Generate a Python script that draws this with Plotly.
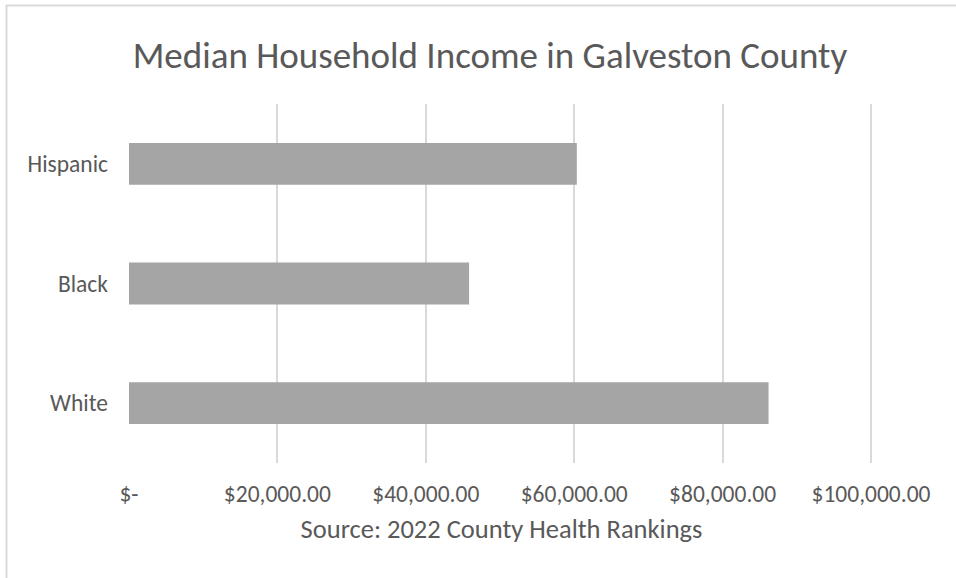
import plotly.graph_objects as go

# Median household income by race/ethnicity, Galveston County
categories = ["White", "Black", "Hispanic"]
income = [86190, 45830, 60350]

tick_values = [0, 20000, 40000, 60000, 80000, 100000]
tick_labels = ["$-", "$20,000.00", "$40,000.00", "$60,000.00", "$80,000.00", "$100,000.00"]

W, H = 956, 578
ML, MR, MT, MB = 129, 82, 104, 115
PW, PH = W - ML - MR, H - MT - MB

TEXT = "#595959"
GRID = "#D9D9D9"
FONT = "Calibri, Carlito, Lato, sans-serif"


def px_x(p):
    return (p - ML) / PW


def px_y(p):
    return (H - MB - p) / PH


fig = go.Figure(
    go.Bar(
        x=income,
        y=categories,
        orientation="h",
        marker=dict(color="#A5A5A5", line=dict(width=0)),
        hoverinfo="x+y",
    )
)

fig.update_layout(
    width=W,
    height=H,
    margin=dict(l=ML, r=MR, t=MT, b=MB),
    paper_bgcolor="white",
    plot_bgcolor="white",
    bargap=0.65,
    showlegend=False,
    font=dict(family=FONT, color=TEXT, size=23),
    title=dict(
        text="Median Household Income in Galveston County",
        x=490 / W,
        xanchor="center",
        xref="container",
        y=1 - 55 / H,
        yanchor="middle",
        yref="container",
        font=dict(size=37, color=TEXT, family=FONT),
    ),
    xaxis=dict(
        range=[0, 100400],
        tickvals=tick_values,
        ticktext=tick_labels,
        showgrid=True,
        gridcolor=GRID,
        gridwidth=1.5,
        zeroline=False,
        showline=False,
        ticks="",
        ticklabelstandoff=14,
        tickfont=dict(size=23.5, color=TEXT),
        title=dict(
            text="Source: 2022 County Health Rankings",
            standoff=12,
            font=dict(size=26.5, color=TEXT),
        ),
        fixedrange=True,
    ),
    yaxis=dict(
        categoryorder="array",
        categoryarray=categories,
        showgrid=False,
        zeroline=False,
        showline=False,
        ticks="",
        ticklabelstandoff=20,
        tickfont=dict(size=23.5, color=TEXT),
        fixedrange=True,
    ),
    shapes=[
        dict(type="line", xref="paper", yref="paper",
             x0=px_x(6), x1=px_x(W + 5), y0=px_y(5.5), y1=px_y(5.5),
             line=dict(color=GRID, width=2)),
        dict(type="line", xref="paper", yref="paper",
             x0=px_x(6.5), x1=px_x(6.5), y0=px_y(5), y1=px_y(H + 5),
             line=dict(color=GRID, width=2)),
    ],
)

fig.write_html("out.html")
